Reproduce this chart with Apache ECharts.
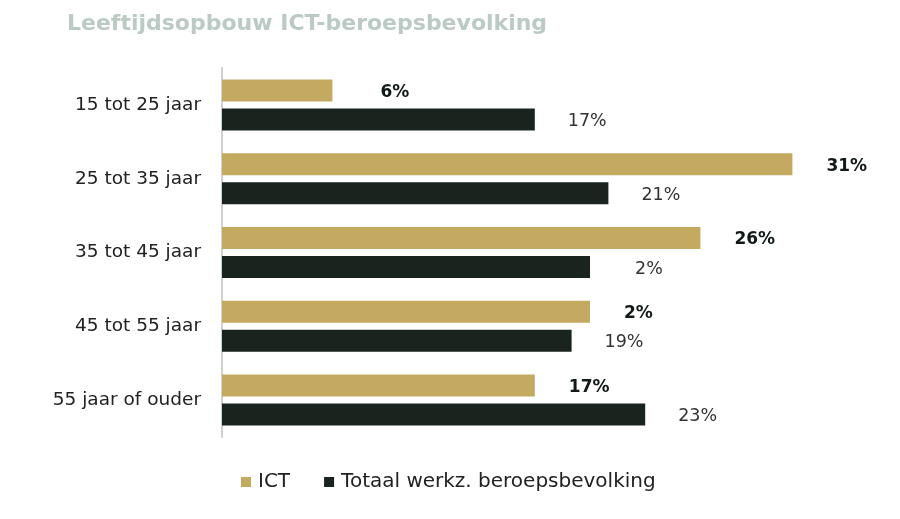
<!DOCTYPE html>
<html>
<head>
<meta charset="utf-8">
<script src="https://cdn.jsdelivr.net/npm/echarts@6/dist/echarts.min.js"></script>
<style>
  html, body { margin: 0; padding: 0; background: #fff; }
  #chart { width: 900px; height: 519px; }
</style>
</head>
<body>
<div id="chart"></div>
<script>
// age groups, top to bottom
const categories = ['15 tot 25 jaar', '25 tot 35 jaar', '35 tot 45 jaar', '45 tot 55 jaar', '55 jaar of ouder'];
const ictValues = [6, 31, 26, 20, 17];
const totaalValues = [17, 21, 20, 19, 23];
// labels as printed in the source picture
const ictLabels = ['6%', '31%', '26%', '2%', '17%'];
const totaalLabels = ['17%', '21%', '2%', '19%', '23%'];

const chart = echarts.init(document.getElementById('chart'));
const font = '"DejaVu Sans", "Open Sans", sans-serif';

const option = {
    title: {
        text: 'Leeftijdsopbouw ICT-beroepsbevolking',
        left: 62,
        top: 8,
        textStyle: { fontFamily: font, fontSize: 22, fontWeight: 'bold', color: '#bccac4' }
    },
    legend: {
        bottom: 22,
        left: 236,
        itemWidth: 10,
        itemHeight: 10,
        itemGap: 34,
        icon: 'rect',
        textStyle: { fontFamily: font, fontSize: 20, color: '#222', padding: [0, 0, 0, 2] },
        data: ['ICT', 'Totaal werkz. beroepsbevolking']
    },
    grid: { left: 222, top: 68, width: 644, height: 369 },
    xAxis: {
        type: 'value',
        min: 0,
        max: 35,
        show: false
    },
    yAxis: {
        type: 'category',
        inverse: true,
        data: categories,
        axisLine: { lineStyle: { color: '#d0d0d0', width: 2 } },
        axisTick: { show: false },
        axisLabel: { margin: 21, fontFamily: font, fontSize: 18.5, color: '#222' }
    },
    series: [
        {
            name: 'ICT',
            type: 'bar',
            barWidth: 22,
            barGap: '32%',
            itemStyle: { color: '#c4a960' },
            data: ictValues.map((v, i) => ({
                value: v,
                label: i === 0 ? { distance: 48 } : undefined
            })),
            label: {
                show: true,
                position: 'right',
                distance: 34,
                offset: [0, 2],
                fontFamily: font,
                fontSize: 17,
                fontWeight: 'bold',
                color: '#111a15',
                formatter: p => ictLabels[p.dataIndex]
            }
        },
        {
            name: 'Totaal werkz. beroepsbevolking',
            type: 'bar',
            barWidth: 22,
            itemStyle: { color: '#19241e' },
            data: totaalValues.map((v, i) => ({
                value: v,
                label: i === 2 ? { distance: 45 } : undefined
            })),
            label: {
                show: true,
                position: 'right',
                distance: 33,
                offset: [0, 2],
                fontFamily: font,
                fontSize: 17.5,
                color: '#333',
                formatter: p => totaalLabels[p.dataIndex]
            }
        }
    ]
};

chart.setOption(option);
</script>
</body>
</html>
